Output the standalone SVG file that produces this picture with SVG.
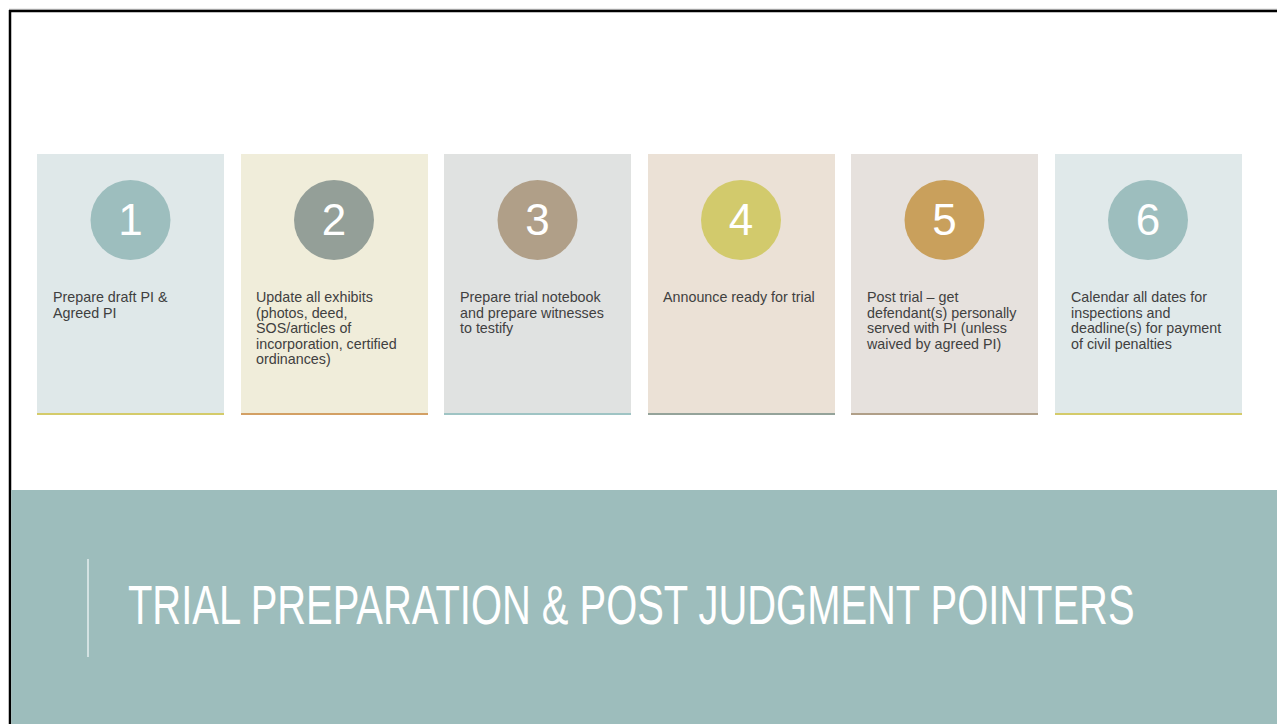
<svg xmlns="http://www.w3.org/2000/svg" width="1277" height="724" viewBox="0 0 1277 724">
<style>
.card-text{font-family:"Liberation Sans",Arial,sans-serif;font-size:14.3px;fill:#404040}
.num{font-family:"Liberation Sans",Arial,sans-serif;font-size:44px;fill:#ffffff;text-anchor:middle}
.title{font-family:"Liberation Sans",Arial,sans-serif;font-size:56px;fill:#ffffff}
</style>
<rect x="0" y="0" width="1277" height="724" fill="#ffffff"/>
<line x1="9" y1="9.2" x2="1277" y2="9.2" stroke="#c8c8c8" stroke-width="1"/>
<line x1="9" y1="11" x2="1277" y2="11" stroke="#000000" stroke-width="2.5"/>
<line x1="10" y1="10" x2="10" y2="724" stroke="#000000" stroke-width="2.5"/>
<rect x="11.25" y="490" width="1266" height="234" fill="#9DBDBC"/>
<line x1="88" y1="559" x2="88" y2="657" stroke="#D3E2E2" stroke-width="2"/>
<g transform="translate(128,624) scale(0.75,1)">
<text class="title" x="0" y="0" textLength="1342" lengthAdjust="spacingAndGlyphs">TRIAL PREPARATION &amp; POST JUDGMENT POINTERS</text>
</g>

<g id="step1">
<rect x="37" y="154" width="187" height="261" fill="#DFE8E9"/>
<rect x="37" y="413" width="187" height="2" fill="#D4CB6A"/>
<circle cx="130.5" cy="220" r="40" fill="#9DBEBE"/>
<text class="num" x="130.5" y="235">1</text>
<text class="card-text" x="53" y="302">Prepare draft PI &amp;</text>
<text class="card-text" x="53" y="317.5">Agreed PI</text>
</g>
<g id="step2">
<rect x="241" y="154" width="187" height="261" fill="#F0EDDA"/>
<rect x="241" y="413" width="187" height="2" fill="#D3A064"/>
<circle cx="334" cy="220" r="40" fill="#949F98"/>
<text class="num" x="334" y="235">2</text>
<text class="card-text" x="256" y="302">Update all exhibits</text>
<text class="card-text" x="256" y="317.5">(photos, deed,</text>
<text class="card-text" x="256" y="333">SOS/articles of</text>
<text class="card-text" x="256" y="348.5">incorporation, certified</text>
<text class="card-text" x="256" y="364">ordinances)</text>
</g>
<g id="step3">
<rect x="444" y="154" width="187" height="261" fill="#E0E2E1"/>
<rect x="444" y="413" width="187" height="2" fill="#9FC4C4"/>
<circle cx="537.5" cy="220" r="40" fill="#B09F88"/>
<text class="num" x="537.5" y="235">3</text>
<text class="card-text" x="460" y="302">Prepare trial notebook</text>
<text class="card-text" x="460" y="317.5">and prepare witnesses</text>
<text class="card-text" x="460" y="333">to testify</text>
</g>
<g id="step4">
<rect x="648" y="154" width="187" height="261" fill="#EBE1D6"/>
<rect x="648" y="413" width="187" height="2" fill="#94A39A"/>
<circle cx="741" cy="220" r="40" fill="#D2CA6C"/>
<text class="num" x="741" y="235">4</text>
<text class="card-text" x="663" y="302">Announce ready for trial</text>
</g>
<g id="step5">
<rect x="851" y="154" width="187" height="261" fill="#E6E1DD"/>
<rect x="851" y="413" width="187" height="2" fill="#B09F88"/>
<circle cx="944.5" cy="220" r="40" fill="#C9A05C"/>
<text class="num" x="944.5" y="235">5</text>
<text class="card-text" x="867" y="302">Post trial – get</text>
<text class="card-text" x="867" y="317.5">defendant(s) personally</text>
<text class="card-text" x="867" y="333">served with PI (unless</text>
<text class="card-text" x="867" y="348.5">waived by agreed PI)</text>
</g>
<g id="step6">
<rect x="1055" y="154" width="187" height="261" fill="#E0E9EA"/>
<rect x="1055" y="413" width="187" height="2" fill="#D4CB6A"/>
<circle cx="1148" cy="220" r="40" fill="#9DBEBE"/>
<text class="num" x="1148" y="235">6</text>
<text class="card-text" x="1071" y="302">Calendar all dates for</text>
<text class="card-text" x="1071" y="317.5">inspections and</text>
<text class="card-text" x="1071" y="333">deadline(s) for payment</text>
<text class="card-text" x="1071" y="348.5">of civil penalties</text>
</g>
<g id="connectors"/>
</svg>
